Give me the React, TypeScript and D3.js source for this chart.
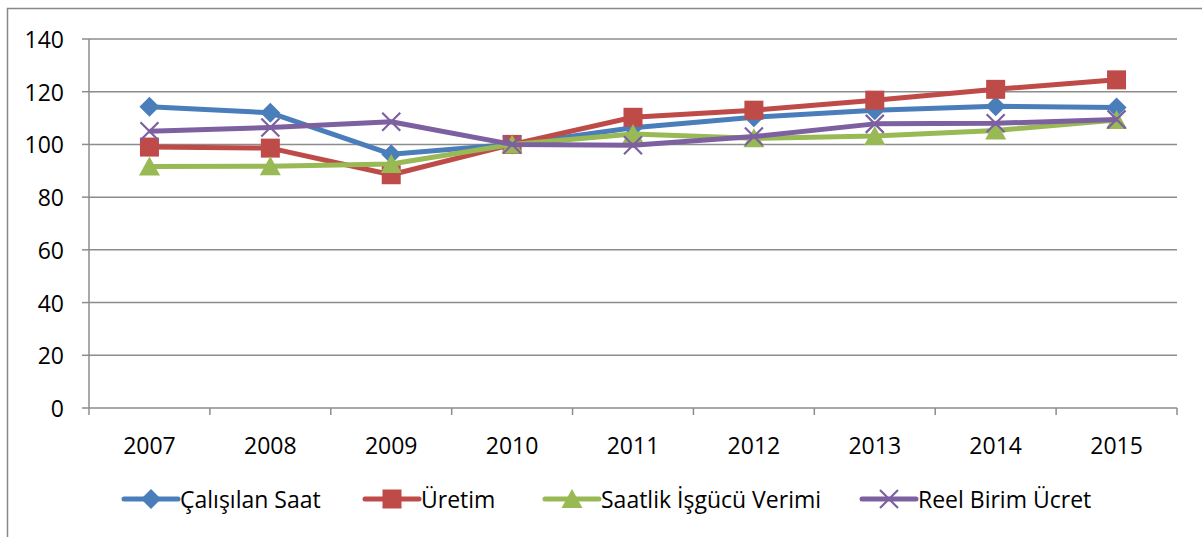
import React from 'react';
import * as d3 from 'd3';

const years = ['2007', '2008', '2009', '2010', '2011', '2012', '2013', '2014', '2015'];
const calisilanSaat = [114.3, 112, 96.3, 100, 106.3, 110.3, 113, 114.5, 114];
const uretim = [99, 98.6, 88.5, 100, 110.3, 113, 116.8, 120.9, 124.5];
const isgucuVerimi = [91.6, 91.7, 92.6, 100, 104, 102.3, 103.2, 105.3, 109.3];
const reelUcret = [105, 106.4, 108.6, 100, 99.7, 103, 107.8, 108, 109.5];
const yTicks = [0, 20, 40, 60, 80, 100, 120, 140];

const series = [
  { name: 'Çalışılan Saat', values: calisilanSaat, color: '#4A7EBB', marker: 'diamond' },
  { name: 'Üretim', values: uretim, color: '#BE4B48', marker: 'square' },
  { name: 'Saatlik İşgücü Verimi', values: isgucuVerimi, color: '#98B954', marker: 'triangle' },
  { name: 'Reel Birim Ücret', values: reelUcret, color: '#7D60A0', marker: 'x' },
];

const width = 1202;
const height = 537;
const plot = { left: 89, right: 1177, top: 39, bottom: 408 };
const font = '"Open Sans", "Noto Sans", sans-serif';

function Marker({ type, x, y, color }: { type: string; x: number; y: number; color: string }) {
  if (type === 'diamond') {
    const r = 10;
    return <path d={`M${x},${y - r}L${x + r},${y}L${x},${y + r}L${x - r},${y}Z`} fill={color} />;
  }
  if (type === 'square') {
    return <rect x={x - 9.5} y={y - 9.5} width={19} height={19} fill={color} />;
  }
  if (type === 'triangle') {
    return <path d={`M${x},${y - 10}L${x + 10.5},${y + 9}L${x - 10.5},${y + 9}Z`} fill={color} />;
  }
  const r = 9;
  return (
    <path d={`M${x - r},${y - r}L${x + r},${y + r}M${x + r},${y - r}L${x - r},${y + r}`}
      stroke={color} strokeWidth={2.2} fill="none" />
  );
}

export default function App() {
  const x = d3.scaleBand().domain(years).range([plot.left, plot.right]);
  const y = d3.scaleLinear().domain([0, 140]).range([plot.bottom, plot.top]);
  const cx = (d: string) => (x(d) as number) + x.bandwidth() / 2;

  const line = d3.line<number>()
    .x((_, i) => cx(years[i]))
    .y(d => y(d));

  const boundaries = d3.range(years.length + 1).map(i => plot.left + i * x.bandwidth());
  const legendX = [124, 365, 545, 862];
  const legendY = 499;

  return (
    <svg width={width} height={height} style={{ position: 'absolute', left: 0, top: 0, background: '#fff' }}>
      <rect x={7.5} y={8.5} width={width} height={height} fill="none" stroke="#898989" strokeWidth={1.5} />

      {yTicks.map(t => (
        <g key={t}>
          {t > 0 && (
            <line x1={plot.left} x2={plot.right} y1={y(t)} y2={y(t)} stroke="#8c8c8c" strokeWidth={1.5} />
          )}
          <line x1={plot.left - 7} x2={plot.left} y1={y(t)} y2={y(t)} stroke="#8c8c8c" strokeWidth={1.5} />
          <text x={64} y={y(t)} textAnchor="end" dominantBaseline="central"
            fontFamily={font} fontSize={23} fill="#000">{t}</text>
        </g>
      ))}

      <line x1={plot.left} x2={plot.left} y1={plot.top} y2={plot.bottom} stroke="#8c8c8c" strokeWidth={1.5} />
      <line x1={plot.left} x2={plot.right} y1={plot.bottom} y2={plot.bottom} stroke="#8c8c8c" strokeWidth={1.5} />
      {boundaries.map((b, i) => (
        <line key={i} x1={b} x2={b} y1={plot.bottom} y2={plot.bottom + 7} stroke="#8c8c8c" strokeWidth={1.5} />
      ))}
      {years.map(yr => (
        <text key={yr} x={cx(yr)} y={454} textAnchor="middle"
          fontFamily={font} fontSize={23} fill="#000">{yr}</text>
      ))}

      {series.map(s => (
        <g key={s.name}>
          <path d={line(s.values) || ''} fill="none" stroke={s.color} strokeWidth={5} strokeLinejoin="round" />
          {s.values.map((v, i) => (
            <Marker key={i} type={s.marker} x={cx(years[i])} y={y(v)} color={s.color} />
          ))}
        </g>
      ))}

      {series.map((s, i) => (
        <g key={s.name}>
          <line x1={legendX[i]} x2={legendX[i] + 54} y1={legendY} y2={legendY}
            stroke={s.color} strokeWidth={5} strokeLinecap="round" />
          <Marker type={s.marker} x={legendX[i] + 27} y={legendY} color={s.color} />
          <text x={legendX[i] + 56} y={legendY} dominantBaseline="central"
            fontFamily={font} fontSize={23} fill="#000">{s.name}</text>
        </g>
      ))}
    </svg>
  );
}
